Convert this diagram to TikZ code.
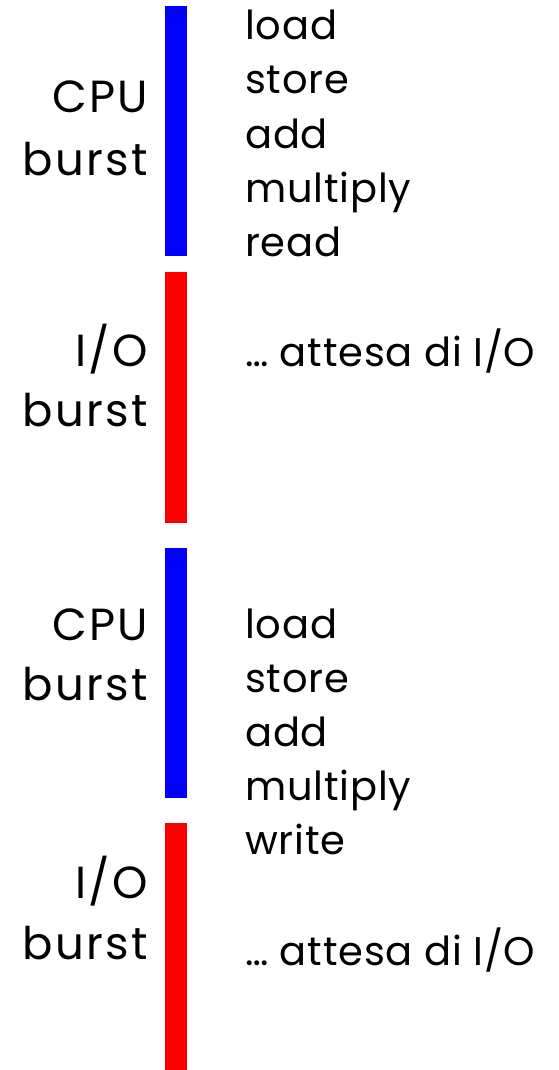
\documentclass[tikz,border=0pt]{standalone}
\usepackage{fontspec}
\setmainfont{Poppins}
\newfontfamily\labelfont[LetterSpace=5]{Poppins}
\newfontfamily\instrfont[LetterSpace=2]{Poppins}
\usetikzlibrary{positioning}
\definecolor{cpublue}{RGB}{0,0,255}
\definecolor{iored}{RGB}{255,0,0}

\begin{document}
\begin{tikzpicture}[
            x=1pt, y=-1pt,
            burstlabel/.style={anchor=base east, inner sep=0pt,
                font=\labelfont\fontsize{45}{50}\selectfont},
            instr/.style={anchor=base west, inner sep=0pt,
                font=\instrfont\fontsize{40}{46}\selectfont}]

        \useasboundingbox (0,0) rectangle (559,1070);

        % barre dei burst
        \fill[cpublue] (165,6) rectangle (187,256);
        \fill[iored] (165,272) rectangle (187,523);
        \fill[cpublue] (165,548) rectangle (187,798);
        \fill[iored] (165,823) rectangle (187,1070);

        % etichette a sinistra
        \node[burstlabel] (cpuA) at (148,113) {CPU};
        \node[burstlabel] (cpuAb) at (148,175) {burst};
        \node[burstlabel] (ioA) at (148,366) {I/O};
        \node[burstlabel] (ioAb) at (148,426) {burst};
        \node[burstlabel] (cpuB) at (148,640) {CPU};
        \node[burstlabel] (cpuBb) at (148,700) {burst};
        \node[burstlabel] (ioB) at (148,898) {I/O};
        \node[burstlabel] (ioBb) at (148,959) {burst};

        % istruzioni
        \foreach \txt [count=\i] in {load,store,add,multiply,read}
            \node[instr] (instrA\i) at (245,{54*\i-14}) {\txt};
        \node[instr] (waitA) at (245,366) {… attesa di I/O};
        \foreach \txt [count=\i] in {load,store,add,multiply,write}
            \node[instr] (instrB\i) at (245,{54*\i+584}) {\txt};
        \node[instr] (waitB) at (245,965) {… attesa di I/O};
    \end{tikzpicture}
\end{document}
